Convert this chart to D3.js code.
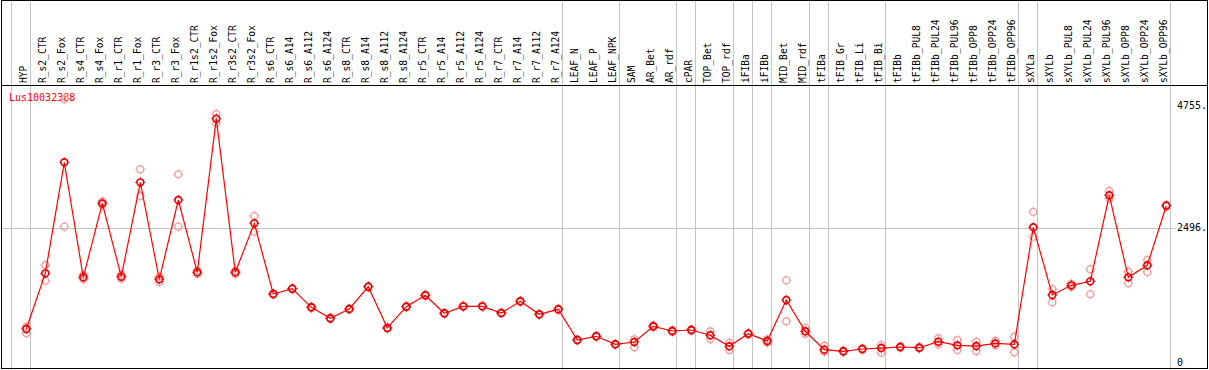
<!DOCTYPE html>
<html>
<head>
<meta charset="utf-8">
<script src="https://cdn.jsdelivr.net/npm/d3@7/dist/d3.min.js"></script>
<style>
  html, body { margin: 0; padding: 0; background: #fff; }
  svg { display: block; }
  text { font-family: "DejaVu Sans Mono", monospace; }
</style>
</head>
<body>
<svg id="chart" width="1209" height="370"></svg>
<script>
const title = "Lus10032388";

const categories = [
  "HYP",
  "R_s2_CTR","R_s2_Fox","R_s4_CTR","R_s4_Fox","R_r1_CTR","R_r1_Fox","R_r3_CTR","R_r3_Fox",
  "R_r1s2_CTR","R_r1s2_Fox","R_r3s2_CTR","R_r3s2_Fox",
  "R_s6_CTR","R_s6_A14","R_s6_A112","R_s6_A124",
  "R_s8_CTR","R_s8_A14","R_s8_A112","R_s8_A124",
  "R_r5_CTR","R_r5_A14","R_r5_A112","R_r5_A124",
  "R_r7_CTR","R_r7_A14","R_r7_A112","R_r7_A124",
  "LEAF_N","LEAF_P","LEAF_NPK",
  "SAM",
  "AR_Bet","AR_rdf",
  "cPAR",
  "TOP_Bet","TOP_rdf",
  "iFIBa",
  "iFIBb",
  "MID_Bet","MID_rdf",
  "tFIBa",
  "tFIB_Gr","tFIB_Li","tFIB_Bi",
  "tFIBb","tFIBb_PUL8","tFIBb_PUL24","tFIBb_PUL96","tFIBb_OPP8","tFIBb_OPP24","tFIBb_OPP96",
  "sXYLa",
  "sXYLb","sXYLb_PUL8","sXYLb_PUL24","sXYLb_PUL96","sXYLb_OPP8","sXYLb_OPP24","sXYLb_OPP96"
];

// first category of each group (a grey separator is drawn before it)
const groupStarts = ["HYP","R_s2_CTR","LEAF_N","SAM","cPAR","TOP_Bet","iFIBa","iFIBb",
  "MID_Bet","tFIBa","tFIB_Gr","tFIBb","sXYLa","sXYLb"];

const meanValues = [
  620,
  1651,3707,1577,2947,1589,3336,1540,3009,
  1670,4515,1670,2577,
  1268,1367,1022,818,
  991,1404,639,1034,
  1244,911,1040,1040,
  917,1133,892,985,
  417,485,337,
  380,
  670,583,
  602,
  504,300,
  533,
  398,
  1157,578,
  237,
  207,250,268,
  287,274,385,318,305,355,337,
  2503,
  1250,1429,1503,3096,1577,1800,2903
];

const repA = [
  663,
  1805,4879,1620,2980,1630,3577,1590,3484,
  1700,4601,1700,2713,
  1280,1380,1035,830,
  1000,1415,650,1045,
  1255,920,1050,1050,
  925,1145,900,995,
  425,495,345,
  430,
  690,600,
  615,
  578,367,
  545,
  430,
  1522,639,
  311,
  220,262,324,
  300,290,448,417,385,404,478,
  2790,
  1355,1460,1726,3175,1681,1898,2920
];

const repB = [
  540,
  1515,2515,1540,2915,1550,3083,1490,2515,
  1640,4429,1640,2422,
  1256,1355,1010,806,
  982,1393,628,1023,
  1233,902,1030,1030,
  909,1121,884,975,
  409,475,329,
  281,
  650,566,
  590,
  435,231,
  520,
  365,
  763,528,
  200,
  195,238,181,
  275,258,340,231,213,320,189,
  2330,
  1115,1400,1263,3030,1466,1676,2890
];

const yTicks = [0, 2496, 4755];
const yTickLabels = ["0", "2496.", "4755."];

const W = 1209, H = 370;
const svg = d3.select("#chart");
svg.append("rect").attr("width", W).attr("height", H).attr("fill", "#fff");

const x = d3.scaleBand().domain(categories).range([10.7, 10.7 + 19 * categories.length]).padding(0);
const px = c => x(c) + 15.6;
const y = d3.scaleLinear().domain([0, 4755]).range([362.5, 105.7]);

const grid = "#c4c4c4";
// vertical group separators
const sepX = groupStarts.map(c => x(c)).concat([x.range()[1]]);
svg.append("g").selectAll("line").data(sepX).join("line")
  .attr("x1", d => Math.round(d) + 0.5).attr("x2", d => Math.round(d) + 0.5)
  .attr("y1", 0).attr("y2", H)
  .attr("stroke", grid).attr("stroke-width", 1);

// horizontal grid at middle tick
svg.append("line")
  .attr("x1", 2).attr("x2", 1176)
  .attr("y1", Math.round(y(2496)) + 0.5).attr("y2", Math.round(y(2496)) + 0.5)
  .attr("stroke", grid).attr("stroke-width", 1);

// y axis labels (right)
const yAxis = d3.axisRight(y).tickValues(yTicks).tickSize(0).tickFormat((d, i) => yTickLabels[i]);
const gy = svg.append("g").attr("transform", "translate(1175,0)").call(yAxis);
gy.select(".domain").remove();
gy.selectAll("text").attr("font-family", "DejaVu Sans Mono, monospace")
  .attr("font-size", 10).attr("fill", "#000").attr("x", 2);

// frame
svg.append("rect").attr("x", 1.5).attr("y", 0.5).attr("width", 1206).attr("height", 368)
  .attr("fill", "none").attr("stroke", "#000").attr("stroke-width", 1);
svg.append("line").attr("x1", 1).attr("x2", 1208).attr("y1", 85.5).attr("y2", 85.5)
  .attr("stroke", "#000").attr("stroke-width", 1);

// header labels
svg.append("g").selectAll("text").data(categories).join("text")
  .attr("transform", d => `translate(${px(d) + 0.6},83) rotate(-90)`)
  .attr("text-anchor", "start")
  .attr("font-size", 9.6)
  .attr("fill", "#000")
  .text(d => d);

// title
svg.append("text").attr("x", 9).attr("y", 100.6).attr("font-size", 10).attr("fill", "#ff0000").text(title);

function marker(g, cx, cy, color, sw) {
  const r = 3.4;
  g.append("circle").attr("cx", cx).attr("cy", cy).attr("r", r)
    .attr("fill", "none").attr("stroke", color).attr("stroke-width", sw);
  const t = 1.6;
  [[0,-1],[0,1],[-1,0],[1,0]].forEach(([dx, dy]) => {
    g.append("line")
      .attr("x1", cx + dx * r).attr("y1", cy + dy * r)
      .attr("x2", cx + dx * (r + t)).attr("y2", cy + dy * (r + t))
      .attr("stroke", color).attr("stroke-width", 1);
  });
}

// replicates
const gRep = svg.append("g");
categories.forEach((c, i) => {
  marker(gRep, px(c), y(repA[i]), "#f29a9a", 1.2);
  marker(gRep, px(c), y(repB[i]), "#f29a9a", 1.2);
});

// mean line
const line = d3.line().x((d, i) => px(categories[i])).y(d => y(d));
svg.append("path").datum(meanValues).attr("d", line)
  .attr("fill", "none").attr("stroke", "#ff0000").attr("stroke-width", 1.2);

// mean markers
const gMean = svg.append("g");
categories.forEach((c, i) => marker(gMean, px(c), y(meanValues[i]), "#e80000", 1.6));
</script>
</body>
</html>
